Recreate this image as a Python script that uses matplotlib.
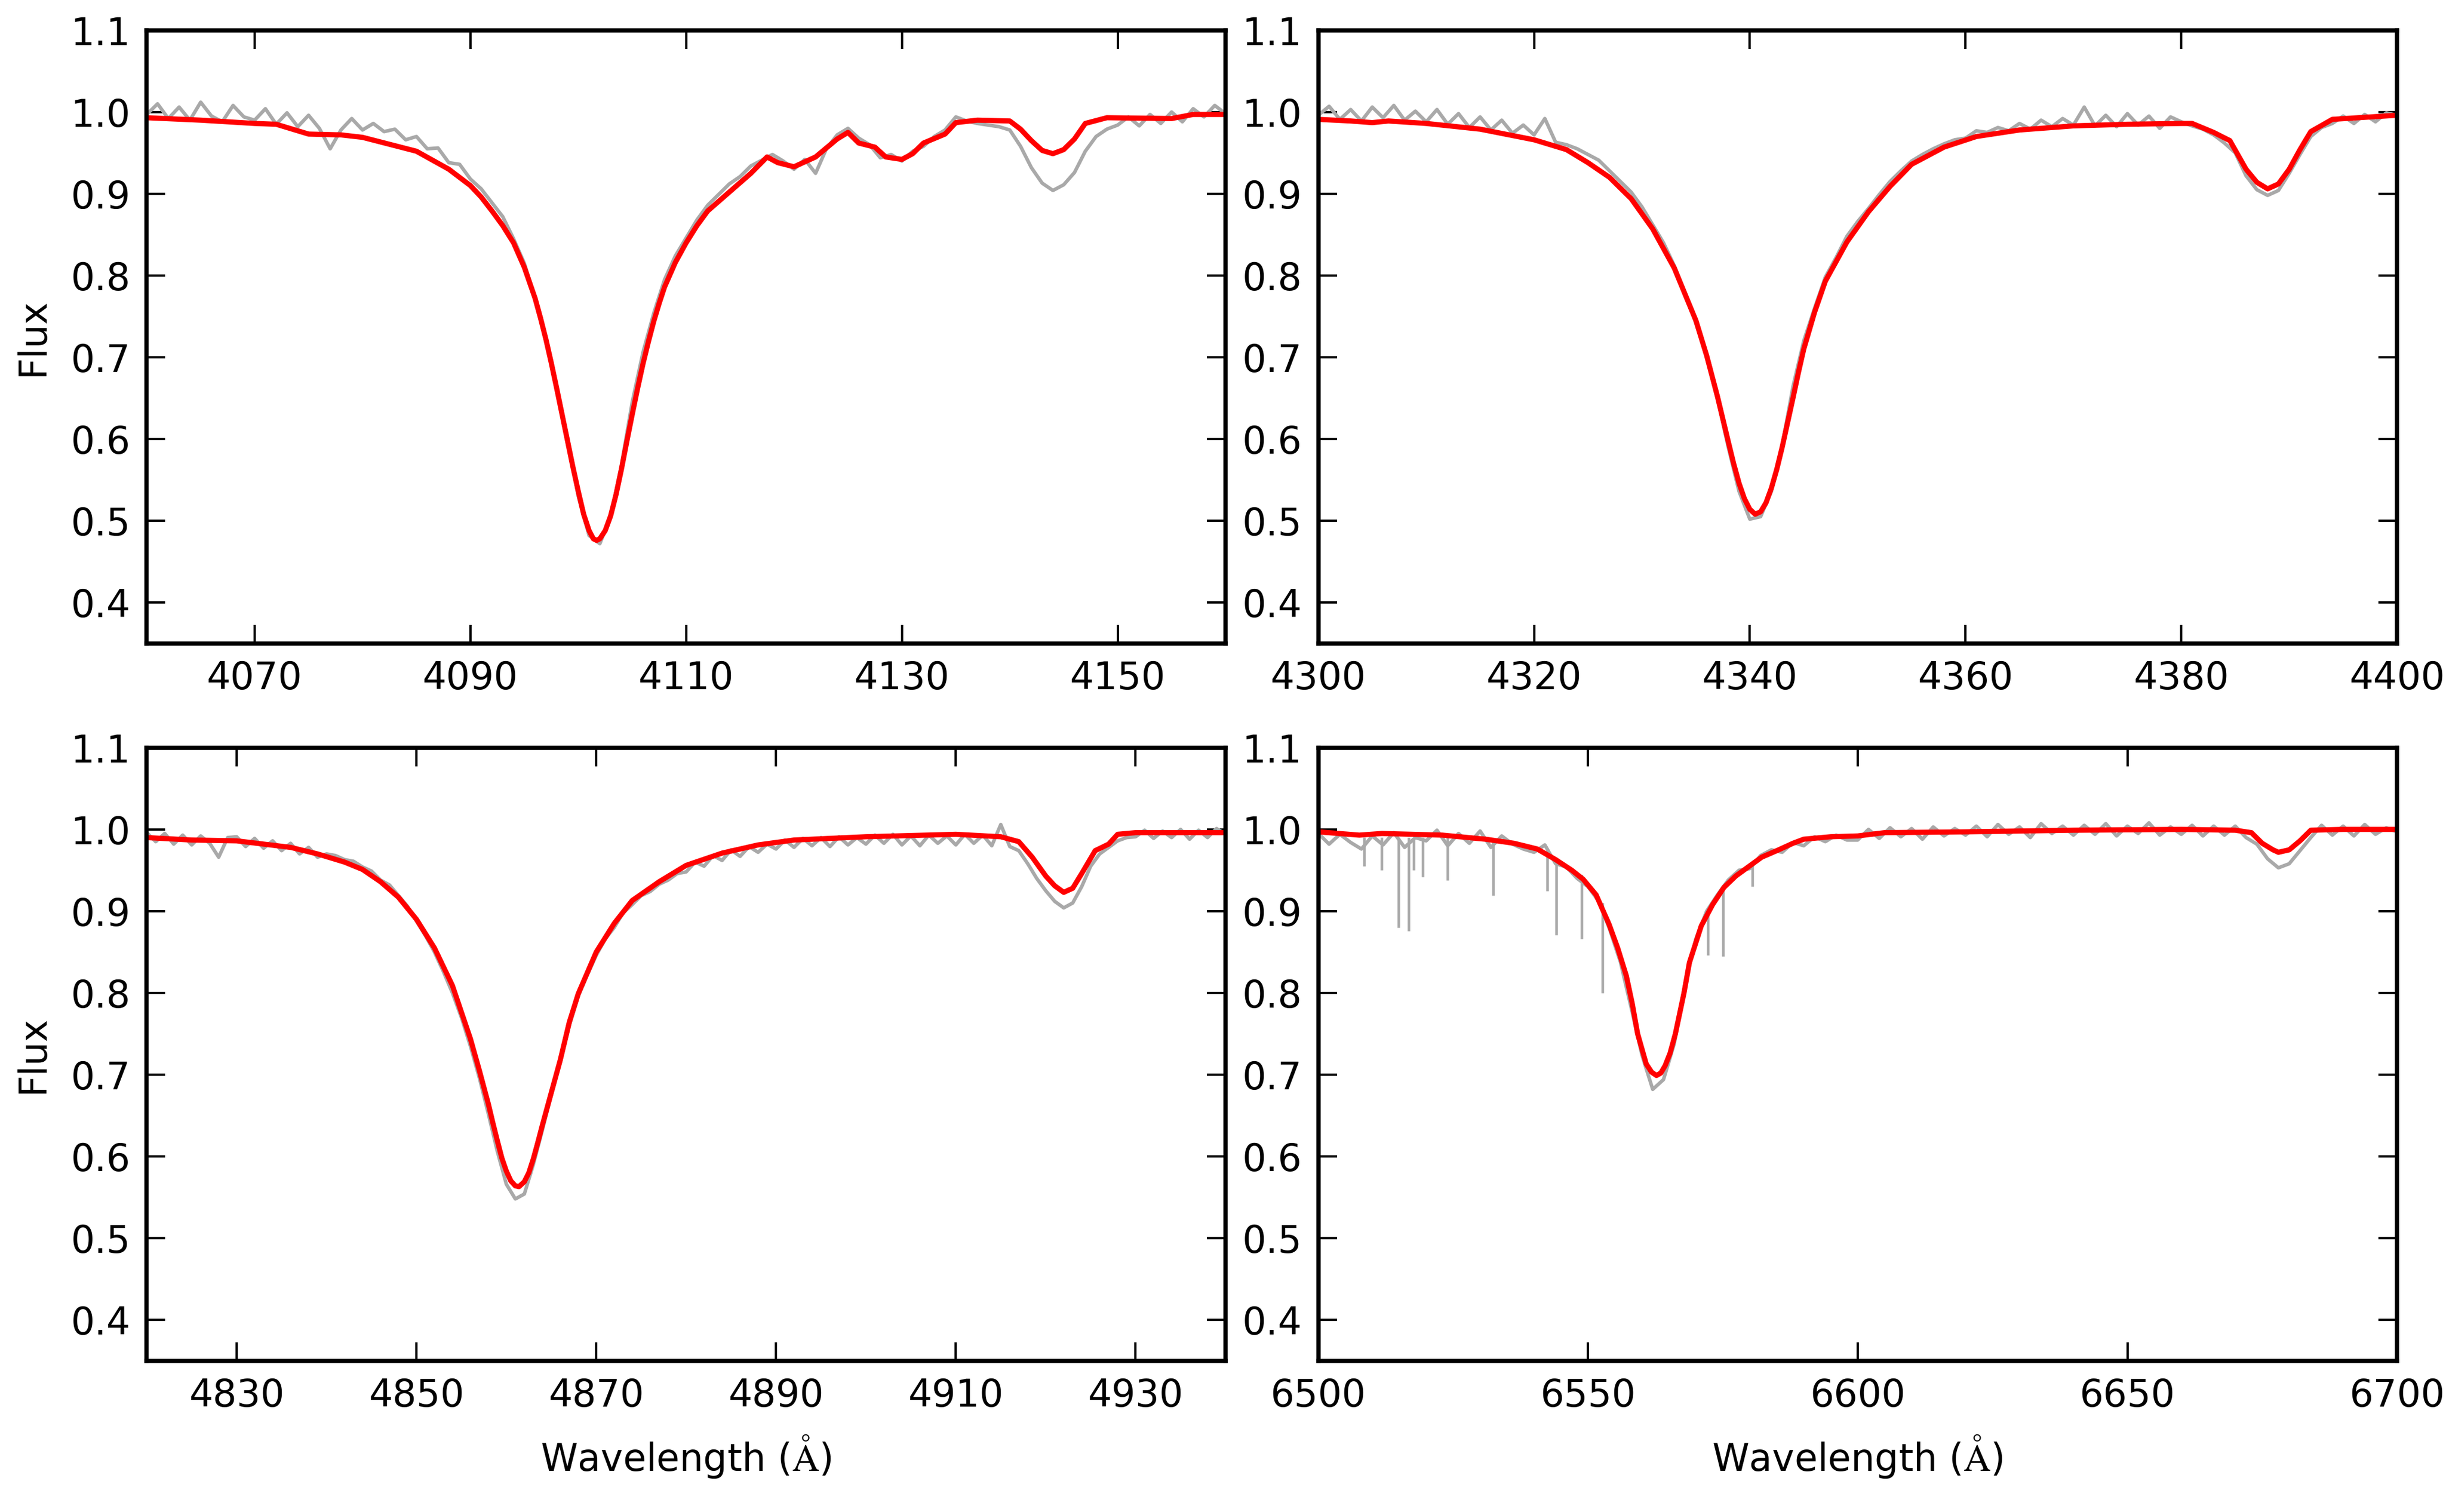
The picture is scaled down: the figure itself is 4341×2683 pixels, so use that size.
import numpy as np
import matplotlib
matplotlib.use("Agg")
import matplotlib.pyplot as plt

# ---------------------------------------------------------------------------
# Data
# ---------------------------------------------------------------------------

# Panel 1: H-delta region
xlim1 = (4060, 4160)
xticks1 = [4070, 4090, 4110, 4130, 4150]
obs1_start, obs1_step = 4060, 1.0
obs1_flux = [
    0.997, 1.010, 0.992, 1.006, 0.990, 1.012, 0.995, 0.988, 1.008, 0.994,
    0.990, 1.004, 0.985, 0.999, 0.982, 0.996, 0.980, 0.955, 0.978, 0.992,
    0.978, 0.986, 0.976, 0.979, 0.966, 0.970, 0.955, 0.956, 0.938, 0.936,
    0.918, 0.906, 0.889, 0.872, 0.845, 0.815, 0.772, 0.722, 0.660, 0.602,
    0.530, 0.482, 0.472, 0.505, 0.568, 0.645, 0.706, 0.754, 0.795, 0.824,
    0.846, 0.868, 0.886, 0.899, 0.912, 0.921, 0.934, 0.941, 0.948, 0.940,
    0.930, 0.942, 0.925, 0.955, 0.972, 0.980, 0.968, 0.960, 0.944, 0.948,
    0.940, 0.952, 0.958, 0.970, 0.978, 0.994, 0.989, 0.986, 0.984, 0.982,
    0.978, 0.958, 0.932, 0.913, 0.904, 0.911, 0.926, 0.952, 0.970, 0.979,
    0.984, 0.994, 0.983, 0.997, 0.986, 1.000, 0.988, 1.004, 0.994, 1.008,
    0.998,
]
model1_wl = [4060, 4065, 4070, 4072, 4075, 4078, 4080, 4085, 4088, 4090,
             4091, 4092, 4093, 4094, 4095, 4096, 4096.5, 4097, 4097.5, 4098,
             4098.5, 4099, 4099.5, 4100, 4100.5, 4101, 4101.4, 4101.7, 4102,
             4102.5, 4103, 4103.5, 4104, 4104.5, 4105, 4105.5, 4106, 4106.5,
             4107, 4107.5, 4108, 4109, 4110, 4111, 4112, 4114, 4116, 4117.5,
             4118.5, 4120, 4122, 4124, 4125, 4126, 4127.5, 4128.5, 4130, 4131,
             4132, 4134, 4135, 4137, 4140, 4141, 4142, 4143, 4144, 4145,
             4146, 4147, 4149, 4155, 4157, 4160]
model1_flux = [0.993, 0.990, 0.986, 0.985, 0.973, 0.972, 0.969, 0.952, 0.930,
               0.910, 0.896, 0.879, 0.861, 0.840, 0.810, 0.772, 0.748, 0.722,
               0.693, 0.662, 0.630, 0.598, 0.566, 0.536, 0.508, 0.488, 0.478,
               0.476, 0.478, 0.488, 0.506, 0.532, 0.563, 0.597, 0.630, 0.662,
               0.692, 0.719, 0.744, 0.766, 0.786, 0.816, 0.840, 0.861, 0.879,
               0.902, 0.925, 0.945, 0.938, 0.933, 0.945, 0.967, 0.975, 0.962,
               0.957, 0.945, 0.942, 0.949, 0.962, 0.973, 0.987, 0.990, 0.989,
               0.979, 0.965, 0.953, 0.949, 0.954, 0.967, 0.986, 0.993, 0.992,
               0.997, 0.997]

# Panel 2: H-gamma region
xlim2 = (4300, 4400)
xticks2 = [4300, 4320, 4340, 4360, 4380, 4400]
obs2_start, obs2_step = 4300, 1.0
obs2_flux = [
    0.996, 1.007, 0.991, 1.003, 0.989, 1.006, 0.993, 1.008, 0.990, 1.001,
    0.988, 1.003, 0.985, 0.998, 0.981, 0.994, 0.978, 0.990, 0.974, 0.984,
    0.972, 0.992, 0.963, 0.960, 0.955, 0.948, 0.941, 0.928, 0.915, 0.902,
    0.884, 0.862, 0.840, 0.812, 0.779, 0.742, 0.703, 0.650, 0.590, 0.536,
    0.502, 0.505, 0.536, 0.592, 0.664, 0.720, 0.760, 0.798, 0.822, 0.848,
    0.866, 0.882, 0.899, 0.915, 0.928, 0.940, 0.948, 0.955, 0.961, 0.966,
    0.968, 0.977, 0.975, 0.981, 0.977, 0.986, 0.979, 0.990, 0.982, 0.992,
    0.984, 1.006, 0.983, 0.996, 0.982, 0.998, 0.984, 0.995, 0.980, 0.994,
    0.988, 0.983, 0.979, 0.972, 0.962, 0.950, 0.922, 0.905, 0.898, 0.904,
    0.925, 0.948, 0.970, 0.981, 0.986, 0.995, 0.986, 0.997, 0.988, 0.999,
    0.996,
]
model2_wl = [4300, 4303, 4305, 4306.5, 4310, 4315, 4320, 4323, 4325, 4327,
             4329, 4331, 4333, 4335, 4336, 4337, 4338, 4338.5, 4339, 4339.5,
             4340, 4340.5, 4341, 4341.5, 4342, 4342.5, 4343, 4343.5, 4344,
             4344.5, 4345, 4346, 4347, 4349, 4351, 4353, 4355, 4358, 4361,
             4365, 4370, 4375, 4380, 4381, 4383, 4384.5, 4386, 4387, 4388,
             4389, 4390, 4391, 4392, 4394, 4400]
model2_flux = [0.991, 0.989, 0.987, 0.989, 0.986, 0.979, 0.966, 0.954, 0.938,
               0.920, 0.894, 0.857, 0.809, 0.745, 0.702, 0.652, 0.597, 0.570,
               0.546, 0.527, 0.514, 0.508, 0.511, 0.522, 0.540, 0.563, 0.590,
               0.620, 0.650, 0.681, 0.710, 0.755, 0.793, 0.841, 0.878, 0.909,
               0.936, 0.957, 0.970, 0.978, 0.983, 0.985, 0.986, 0.986, 0.975,
               0.965, 0.930, 0.914, 0.906, 0.912, 0.930, 0.954, 0.976, 0.991,
               0.996]

# Panel 3: H-beta region
xlim3 = (4820, 4940)
xticks3 = [4830, 4850, 4870, 4890, 4910, 4930]
obs3_start, obs3_step = 4820, 1.0
obs3_flux = [
    0.996, 0.985, 0.995, 0.982, 0.993, 0.981, 0.992, 0.983, 0.966, 0.990,
    0.991, 0.979, 0.989, 0.977, 0.986, 0.974, 0.983, 0.970, 0.978, 0.966,
    0.970, 0.968, 0.963, 0.961, 0.954, 0.949, 0.938, 0.932, 0.919, 0.906,
    0.888, 0.870, 0.850, 0.826, 0.800, 0.770, 0.735, 0.696, 0.652, 0.606,
    0.566, 0.548, 0.554, 0.590, 0.632, 0.676, 0.716, 0.760, 0.796, 0.822,
    0.846, 0.866, 0.880, 0.898, 0.908, 0.919, 0.924, 0.933, 0.938, 0.946,
    0.948, 0.960, 0.955, 0.968, 0.962, 0.975, 0.967, 0.979, 0.972, 0.982,
    0.976, 0.987, 0.978, 0.989, 0.980, 0.990, 0.979, 0.991, 0.981, 0.990,
    0.982, 0.993, 0.983, 0.994, 0.981, 0.992, 0.980, 0.993, 0.983, 0.992,
    0.981, 0.994, 0.983, 0.993, 0.980, 1.006, 0.979, 0.974, 0.958, 0.940,
    0.925, 0.912, 0.904, 0.910, 0.930, 0.955, 0.970, 0.978, 0.986, 0.990,
    0.991, 0.999, 0.989, 0.998, 0.990, 1.000, 0.988, 0.999, 0.990, 1.001,
    0.994,
]
model3_wl = [4820, 4825, 4830, 4833, 4836, 4839, 4842, 4844, 4846, 4848,
             4850, 4852, 4854, 4856, 4857, 4858, 4858.5, 4859, 4859.5, 4860,
             4860.5, 4861, 4861.4, 4862, 4862.5, 4863, 4863.5, 4864, 4865,
             4866, 4867, 4868, 4870, 4872, 4874, 4877, 4880, 4884, 4888,
             4892, 4900, 4910, 4915, 4917, 4918.5, 4920, 4921, 4922, 4923,
             4924, 4925.5, 4927, 4928, 4930, 4940]
model3_flux = [0.990, 0.987, 0.986, 0.982, 0.978, 0.970, 0.960, 0.951, 0.936,
               0.917, 0.890, 0.855, 0.809, 0.744, 0.705, 0.664, 0.641, 0.619,
               0.598, 0.582, 0.570, 0.564, 0.563, 0.569, 0.580, 0.597, 0.617,
               0.638, 0.678, 0.718, 0.764, 0.799, 0.850, 0.885, 0.913, 0.936,
               0.956, 0.971, 0.981, 0.987, 0.991, 0.994, 0.991, 0.985, 0.966,
               0.943, 0.931, 0.923, 0.928, 0.946, 0.974, 0.982, 0.994, 0.996,
               0.996]

# Panel 4: H-alpha region
xlim4 = (6500, 6700)
xticks4 = [6500, 6550, 6600, 6650, 6700]
obs4_start, obs4_step = 6500, 2.0
obs4_flux = [
    0.995, 0.982, 0.994, 0.984, 0.976, 0.992, 0.981, 0.996, 0.978, 0.990,
    0.986, 0.999, 0.980, 0.995, 0.983, 0.998, 0.978, 0.992, 0.982, 0.976,
    0.972, 0.981, 0.958, 0.954, 0.940, 0.930, 0.912, 0.878, 0.838, 0.782,
    0.724, 0.682, 0.694, 0.738, 0.812, 0.866, 0.900, 0.920, 0.938, 0.950,
    0.952, 0.968, 0.975, 0.972, 0.984, 0.980, 0.991, 0.985, 0.993, 0.987,
    0.987, 1.000, 0.989, 1.002, 0.991, 1.001, 0.988, 1.003, 0.992, 1.001,
    0.993, 1.004, 0.991, 1.006, 0.994, 1.003, 0.990, 1.007, 0.995, 1.004,
    0.993, 1.005, 0.994, 1.007, 0.992, 1.004, 0.995, 1.008, 0.993, 1.003,
    0.994, 1.005, 0.992, 1.004, 0.993, 1.004, 0.990, 0.982, 0.964, 0.953,
    0.958, 0.974, 0.990, 1.005, 0.993, 1.004, 0.992, 1.006, 0.994, 1.002,
    0.997,
]
# narrow telluric absorption lines in the observed H-alpha spectrum
tell_wl = [6508.5, 6511.7, 6514.9, 6516.7, 6517.7, 6519.4, 6524.0, 6532.4,
           6542.5, 6544.1, 6548.8, 6552.7, 6572.2, 6575.0, 6580.5]
tell_top = [0.990, 0.990, 0.990, 0.990, 0.990, 0.990, 0.990, 0.985,
            0.975, 0.965, 0.945, 0.910, 0.905, 0.925, 0.958]
tell_bottom = [0.955, 0.950, 0.880, 0.876, 0.950, 0.942, 0.938, 0.919,
               0.925, 0.871, 0.866, 0.800, 0.846, 0.845, 0.930]
model4_wl = [6500, 6507.6, 6511.8, 6523, 6531, 6536.3, 6540.6, 6544, 6547,
             6549.1, 6551.5, 6553.9, 6555.5, 6557.1, 6558.2, 6559.2, 6560.8,
             6561.8, 6562.7, 6563.5, 6564.3, 6565.2, 6566.2, 6567.8, 6568.8,
             6571, 6573.1, 6575.2, 6577.4, 6582.2, 6585, 6588, 6590, 6595,
             6600, 6605, 6620, 6640, 6660, 6670, 6673, 6675, 6677, 6678,
             6680, 6682, 6684, 6690, 6700]
model4_flux = [0.997, 0.993, 0.995, 0.993, 0.988, 0.983, 0.976, 0.963, 0.950,
               0.939, 0.920, 0.884, 0.855, 0.821, 0.787, 0.750, 0.713, 0.703,
               0.699, 0.702, 0.711, 0.726, 0.750, 0.800, 0.837, 0.882, 0.908,
               0.929, 0.943, 0.966, 0.974, 0.983, 0.988, 0.991, 0.992, 0.996,
               0.997, 0.999, 1.000, 0.999, 0.996, 0.983, 0.975, 0.972, 0.975,
               0.986, 0.999, 1.000, 1.000]

yticks = [0.4, 0.5, 0.6, 0.7, 0.8, 0.9, 1.0, 1.1]
ylim = (0.35, 1.1)

OBS_COLOR = 'darkgray'
MODEL_COLOR = 'red'


def obs_grid(start, step, flux):
    """Wavelength grid of an observed spectrum sampled at a fixed step."""
    return start + step * np.arange(len(flux))


def style_axes(ax, xlim, xticks):
    ax.set_xlim(*xlim)
    ax.set_ylim(*ylim)
    ax.set_xticks(xticks)
    ax.set_yticks(yticks)
    ax.yaxis.set_major_formatter(plt.FormatStrFormatter('%.1f'))
    ax.tick_params(direction='in', top=True, right=True, length=8,
                   width=1.0, pad=7, labelsize=16)
    for s in ax.spines.values():
        s.set_linewidth(1.8)


def main():
    plt.rcParams['mathtext.fontset'] = 'cm'
    plt.rcParams['font.family'] = 'DejaVu Sans'

    fig, axes = plt.subplots(2, 2, figsize=(4341 / 300, 2683 / 300))
    fig.subplots_adjust(left=0.060, right=0.980, bottom=0.100, top=0.980,
                        wspace=0.086, hspace=0.170)

    panels = [
        (obs1_start, obs1_step, obs1_flux, model1_wl, model1_flux, xlim1, xticks1),
        (obs2_start, obs2_step, obs2_flux, model2_wl, model2_flux, xlim2, xticks2),
        (obs3_start, obs3_step, obs3_flux, model3_wl, model3_flux, xlim3, xticks3),
        (obs4_start, obs4_step, obs4_flux, model4_wl, model4_flux, xlim4, xticks4),
    ]

    for ax, (start, step, flux, mwl, mfl, xlim, xticks) in zip(axes.flat, panels):
        ax.plot(obs_grid(start, step, flux), flux, color=OBS_COLOR, lw=1.5)
        if xlim == xlim4:
            ax.vlines(tell_wl, tell_bottom, tell_top, color=OBS_COLOR, lw=1.1)
        ax.plot(mwl, mfl, color=MODEL_COLOR, lw=2.2)
        style_axes(ax, xlim, xticks)

    # axis labels only on the outer panels
    for ax in axes[:, 0]:
        ax.set_ylabel('Flux', fontsize=16, labelpad=8)
    for ax in axes[1, :]:
        ax.set_xlabel(r'Wavelength ($\mathrm{\AA}$)', fontsize=16, labelpad=8)

    fig.savefig('out.png', dpi=300)


if __name__ == '__main__':
    main()
